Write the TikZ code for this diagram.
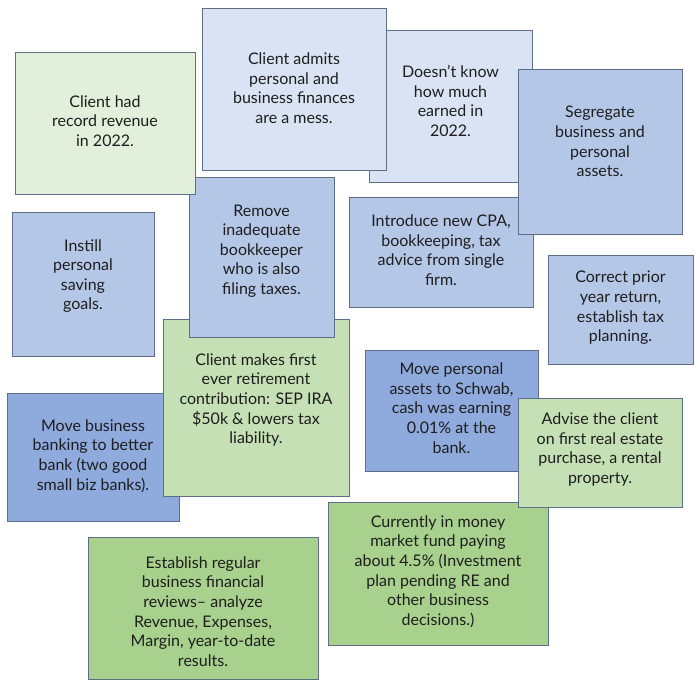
\documentclass[tikz,border=0pt]{standalone}
\usepackage{fontspec}
\setmainfont{Lato}
\usetikzlibrary{calc}
\definecolor{cgreenA}{HTML}{E2EFDA}
\definecolor{cblueA}{HTML}{DAE3F3}
\definecolor{cblueB}{HTML}{B4C7E7}
\definecolor{cblueC}{HTML}{8FAADC}
\definecolor{cgreenB}{HTML}{C5E0B4}
\definecolor{cgreenC}{HTML}{A9D18E}
\definecolor{cborder}{HTML}{5E6E88}
\definecolor{ctext}{HTML}{1E1E1E}
\newcommand\card[8]{%
  \node[card,fill=#6,minimum width={#4-#2},minimum height={#5-#3}] (#1) at ({(#2+#4)/2},{-(#3+#5)/2}) {};
  \node[txt] (#1t) at ([yshift=#7]#1.center) {#8};
}
\begin{document}
\begin{tikzpicture}[x=1pt,y=1pt,
  card/.style={draw=cborder,line width=0.8pt,inner sep=0pt,rectangle},
  txt/.style={align=center,text=ctext,inner sep=0pt,font=\fontsize{16}{19.6}\selectfont}]
\useasboundingbox[fill=white] (0,0) rectangle (700,-689);
\card{b3}{369}{30}{532}{182}{cblueA}{5}{Doesn’t know\\how much\\earned in\\2022.}
\card{b2}{202}{8}{386}{170}{cblueA}{1}{Client admits\\personal and\\business finances\\are a mess.}
\card{b5}{349}{197}{533}{307}{cblueB}{2}{Introduce new CPA,\\bookkeeping, tax\\advice from single\\firm.}
\card{b4}{518}{69}{682}{234}{cblueB}{10}{Segregate\\business and\\personal\\assets.}
\card{b6}{548}{255}{693}{364}{cblueB}{1.5}{Correct prior\\year return,\\establish tax\\planning.}
\card{b10}{7}{393}{179}{521}{cblueC}{1}{Move business\\banking to better\\bank (two good\\small biz banks).}
\card{b9}{163}{319}{349}{496}{cgreenB}{7.5}{Client makes first\\ever retirement\\contribution: SEP IRA\\\$50k \& lowers tax\\liability.}
\card{b8}{189}{177}{334}{337}{cblueB}{6}{Remove\\inadequate\\bookkeeper\\who is also\\filing taxes.}
\card{b1}{15}{52}{195}{194}{cgreenA}{2}{Client had\\record revenue\\in 2022.}
\card{b7}{12}{212}{154}{356}{cblueB}{8}{Instill\\personal\\saving\\goals.}
\card{b11}{365}{350}{538}{471}{cblueC}{2.5}{Move personal\\assets to Schwab,\\cash was earning\\0.01\% at the\\bank.}
\card{b13}{328}{502}{548}{645}{cgreenC}{2}{Currently in money\\market fund paying\\about 4.5\% (Investment\\plan pending RE and\\other business\\decisions.)}
\card{b12}{518}{398}{682}{507}{cgreenB}{3}{Advise the client\\on first real estate\\purchase, a rental\\property.}
\card{b14}{88}{537}{318}{679}{cgreenC}{-3.5}{Establish regular\\business financial\\reviews– analyze\\Revenue, Expenses,\\Margin, year-to-date\\results.}
\end{tikzpicture}
\end{document}
